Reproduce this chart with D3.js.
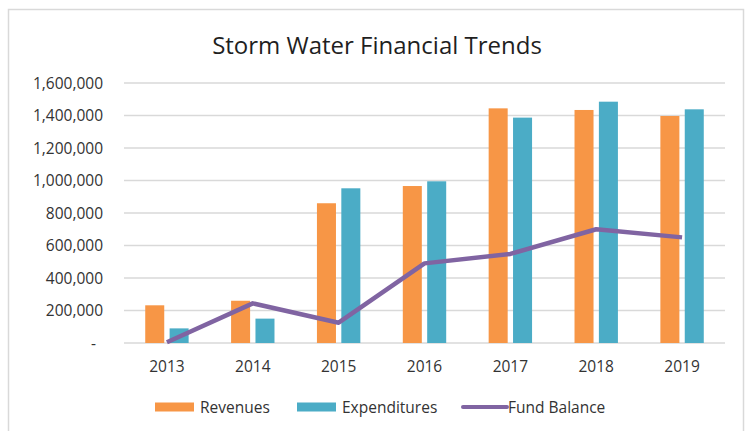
<!DOCTYPE html>
<html>
<head>
<meta charset="utf-8">
<script src="https://cdn.jsdelivr.net/npm/d3@7"></script>
<style>
  html, body { margin: 0; padding: 0; background: #fff; }
  svg { display: block; font-family: "Open Sans", "DejaVu Sans", sans-serif; }
</style>
</head>
<body>
<svg id="chart" width="748" height="431"></svg>
<script>
// Storm water fund: annual revenues, expenditures and fund balance
const years = ["2013", "2014", "2015", "2016", "2017", "2018", "2019"];
const revenues = [232000, 260000, 860000, 966000, 1444000, 1434000, 1397000];
const expenditures = [90000, 150000, 952000, 995000, 1387000, 1485000, 1438000];
const fundBalance = [5000, 244000, 125000, 490000, 548000, 700000, 650000];
const yTicks = [0, 200000, 400000, 600000, 800000, 1000000, 1200000, 1400000, 1600000];

const seriesNames = ["Revenues", "Expenditures", "Fund Balance"];
const colors = { "Revenues": "#F79646", "Expenditures": "#4BACC6", "Fund Balance": "#8064A2" };

const svg = d3.select("#chart");

// outer chart frame
svg.append("rect")
  .attr("x", 8.5).attr("y", 9.5)
  .attr("width", 735).attr("height", 430)
  .attr("fill", "#fff")
  .attr("stroke", "#d9d9d9")
  .attr("stroke-width", 1.5);

svg.append("text")
  .attr("x", 377).attr("y", 54)
  .attr("text-anchor", "middle")
  .attr("font-size", 24)
  .attr("fill", "#1f1f1f")
  .text("Storm Water Financial Trends");

const x = d3.scaleBand().domain(years).range([124, 725]).padding(0);
const y = d3.scaleLinear().domain([0, 1600000]).range([343, 83]);

const bw = x.bandwidth();
const xs = d3.scaleBand()
  .domain(["Revenues", "Expenditures"])
  .range([bw / 2 - 21.7, bw / 2 + 21.7])
  .paddingInner(0.22);

// horizontal gridlines
svg.append("g")
  .selectAll("line")
  .data(yTicks)
  .join("line")
  .attr("x1", 124).attr("x2", 725)
  .attr("y1", d => y(d)).attr("y2", d => y(d))
  .attr("stroke", "#d9d9d9")
  .attr("stroke-width", 1.5);

// value axis labels
const fmt = d3.format(",");
svg.append("g")
  .selectAll("text")
  .data(yTicks)
  .join("text")
  .attr("x", d => d === 0 ? 96 : 103)
  .attr("y", d => y(d))
  .attr("dy", "0.36em")
  .attr("text-anchor", "end")
  .attr("font-size", 15.5)
  .attr("fill", "#333")
  .text(d => d === 0 ? "-" : fmt(d));

// category axis labels
svg.append("g")
  .selectAll("text")
  .data(years)
  .join("text")
  .attr("x", d => x(d) + bw / 2)
  .attr("y", 366)
  .attr("dy", "0.36em")
  .attr("text-anchor", "middle")
  .attr("font-size", 15.5)
  .attr("fill", "#333")
  .text(d => d);

// clustered bars
const barData = years.flatMap((yr, i) => [
  { year: yr, key: "Revenues", value: revenues[i] },
  { year: yr, key: "Expenditures", value: expenditures[i] }
]);

svg.append("g")
  .selectAll("rect")
  .data(barData)
  .join("rect")
  .attr("x", d => x(d.year) + xs(d.key))
  .attr("y", d => y(d.value))
  .attr("width", xs.bandwidth())
  .attr("height", d => y(0) - y(d.value))
  .attr("fill", d => colors[d.key]);

// fund balance line
const line = d3.line()
  .x((d, i) => x(years[i]) + bw / 2)
  .y(d => y(d));

svg.append("path")
  .datum(fundBalance)
  .attr("d", line)
  .attr("fill", "none")
  .attr("stroke", colors["Fund Balance"])
  .attr("stroke-width", 4.5)
  .attr("stroke-linejoin", "round");

// legend
const legendItems = [
  { name: "Revenues", x: 155, type: "box" },
  { name: "Expenditures", x: 297, type: "box" },
  { name: "Fund Balance", x: 463, type: "line" }
];
const lg = svg.append("g").selectAll("g").data(legendItems).join("g")
  .attr("transform", d => `translate(${d.x},407)`);

lg.filter(d => d.type === "box").append("rect")
  .attr("x", 0).attr("y", -4.5)
  .attr("width", 39).attr("height", 9)
  .attr("fill", d => colors[d.name]);

lg.filter(d => d.type === "line").append("line")
  .attr("x1", 0).attr("x2", 44)
  .attr("y1", 0).attr("y2", 0)
  .attr("stroke", d => colors[d.name])
  .attr("stroke-width", 4)
  .attr("stroke-linecap", "round");

lg.append("text")
  .attr("x", 45)
  .attr("y", 0)
  .attr("dy", "0.36em")
  .attr("font-size", 15.5)
  .attr("fill", "#333")
  .text(d => d.name);
</script>
</body>
</html>
